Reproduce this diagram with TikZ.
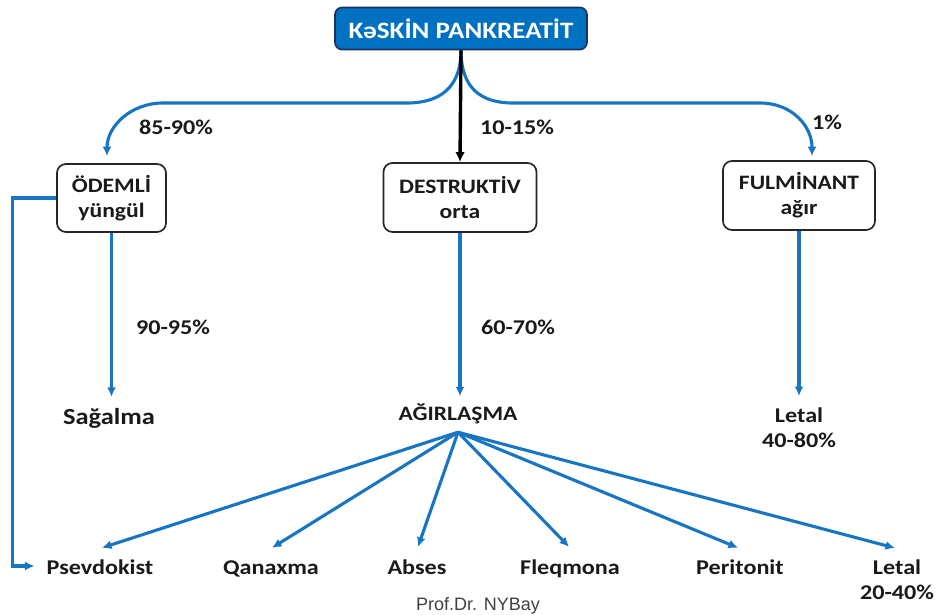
\documentclass[tikz,border=0pt]{standalone}
\usepackage{fontspec}
\setmainfont{Carlito}[FakeStretch=1.15]
\newfontfamily\proffont{Liberation Sans}
\usetikzlibrary{arrows.meta}
\definecolor{lblue}{RGB}{23,117,196}
\definecolor{bfill}{RGB}{0,112,192}
\definecolor{bdraw}{RGB}{28,48,98}
\definecolor{txt}{RGB}{26,26,26}
\begin{document}
\begin{tikzpicture}[x=1pt,y=-1pt,
  bl/.style={draw=lblue,line width=3.1pt,-{Latex[length=9.5pt,width=9pt]}},
  blk/.style={draw=black,line width=3.4pt,-{Latex[length=10pt,width=9.5pt]}},
  topbox/.style={draw=bdraw,line width=1.6pt,fill=bfill,rounded corners=7pt,
    minimum width=252pt,minimum height=42pt,inner sep=0pt,text=white,
    font=\fontsize{23.5}{26}\selectfont\bfseries},
  catbox/.style={draw=black!85,line width=1.7pt,fill=white,rounded corners=9pt,
    align=center,inner sep=0pt,text=txt,font=\fontsize{20.5}{25}\selectfont\bfseries},
  lbl/.style={inner sep=0pt,text height=14pt,text depth=4pt,text=txt,
    font=\fontsize{21}{25}\selectfont\bfseries},
  mlbl/.style={inner sep=0pt,align=center,text=txt,
    font=\fontsize{21}{25}\selectfont\bfseries},
  pct/.style={inner sep=0pt,text=txt,font=\fontsize{21}{25}\selectfont\bfseries}
]
\useasboundingbox (0,0) rectangle (935,614);

% top
\node[topbox] (top) at (461,28.5) {KəSKİN PANKREATİT};

% category boxes
\node[catbox,minimum width=109pt,minimum height=68pt] (odemli) at (111.5,198) {ÖDEMLİ\\yüngül};
\node[catbox,minimum width=153pt,minimum height=69pt] (destr) at (460,197.5) {DESTRUKTİV\\orta};
\node[catbox,minimum width=152pt,minimum height=69pt] (fulm) at (799,195.5) {FULMİNANT\\ağır};

% middle labels
\node[lbl,anchor=base,font=\fontsize{23}{25}\selectfont\bfseries] (sag) at (109,424) {Sağalma};
\node[lbl,anchor=base,font=\fontsize{20.5}{25}\selectfont\bfseries] (agir) at (458,420.5) {AĞIRLAŞMA};
\node[mlbl,anchor=north] (let1) at (799,408) {Letal\\40-80\%};

% bottom labels
\node[lbl,anchor=base] (psev) at (100,574) {Psevdokist};
\node[lbl,anchor=base] (qan) at (271,574) {Qanaxma};
\node[lbl,anchor=base] (abs) at (417,574) {Abses};
\node[lbl,anchor=base] (fleq) at (570,574) {Fleqmona};
\node[lbl,anchor=base] (peri) at (740,574) {Peritonit};
\node[mlbl,anchor=north] (let2) at (897,560) {Letal\\20-40\%};

% percentages
\node[pct,anchor=base] (p1) at (176,134.5) {85-90\%};
\node[pct,anchor=base] (p2) at (517,134.5) {10-15\%};
\node[pct,anchor=base] (p3) at (827,129.5) {1\%};
\node[pct,anchor=base] (p4) at (173,334.5) {90-95\%};
\node[pct,anchor=base] (p5) at (518,334.5) {60-70\%};

\node[inner sep=0pt,anchor=base,text=black!75,font=\proffont\fontsize{18}{20}\selectfont] (prof) at (478,610) {Prof.Dr. NYBay};

% top connectors
\draw[bl] (top.south) .. controls +(0,38) and +(32,0) .. (407,103) -- (163,103)
  .. controls +(-32,0) and +(0,-30) .. ([xshift=-4.5pt,yshift=7pt]odemli.north);
\draw[bl] (top.south) .. controls +(0,38) and +(-32,0) .. (513,103) -- (760,103)
  .. controls +(32,0) and +(0,-30) .. ([xshift=13pt,yshift=4pt]fulm.north);
\draw[blk] (top.south) -- (destr.north);

% vertical connectors
\draw[bl,shorten >=13pt] (odemli.south) -- (odemli.south |- sag.north);
\draw[bl,shorten >=10pt] (destr.south) -- (destr.south |- agir.north);
\draw[bl,shorten >=12pt] (fulm.south) -- (fulm.south |- let1.north);

% pseudocyst connector
\draw[bl] (odemli.west) -- ++(-44,0) |- ([xshift=-12pt,yshift=3pt]psev.west);

% fan
\coordinate (fan) at ([yshift=-7.5pt]agir.south);
\draw[bl] (fan) -- ([xshift=2pt,yshift=12pt]psev.north);
\draw[bl] (fan) -- ([xshift=1pt,yshift=12pt]qan.north);
\draw[bl] (fan) -- ([xshift=1pt,yshift=13pt]abs.north);
\draw[bl] (fan) -- ([xshift=-1pt,yshift=13pt]fleq.north);
\draw[bl] (fan) -- ([xshift=-2pt,yshift=12pt]peri.north);
\draw[bl] (fan) -- ([xshift=-2pt,yshift=12pt]let2.north);
\end{tikzpicture}
\end{document}
